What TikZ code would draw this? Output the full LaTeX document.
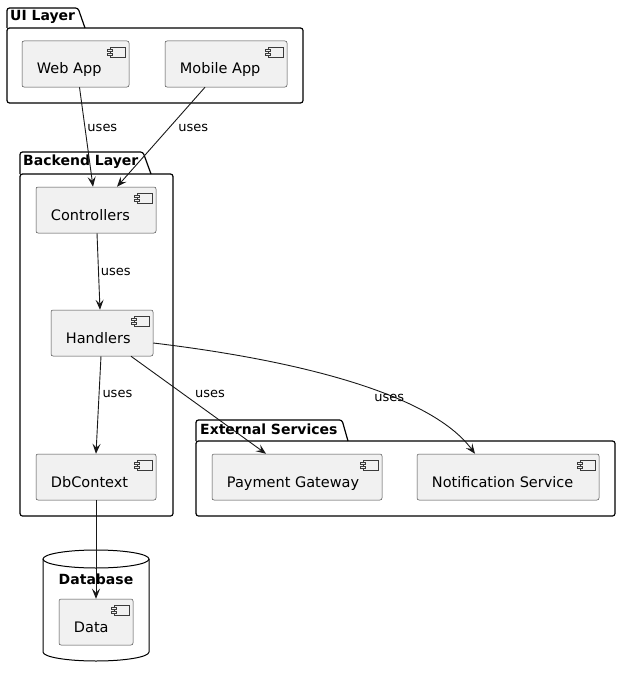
\documentclass[tikz,border=0pt]{standalone}
\usepackage{fontspec}
\setmainfont{DejaVu Sans}
\usetikzlibrary{arrows.meta}
\definecolor{compfill}{HTML}{F1F1F1}
\definecolor{ink}{HTML}{181818}
\tikzset{
  compbox/.style={draw=ink!80, line width=0.5pt, fill=compfill, rounded corners=2pt, inner sep=0pt},
  comptext/.style={font=\fontsize{14.5}{16}\selectfont, inner sep=0pt, text=black},
  pkg/.style={draw=black, line width=1.2pt, rounded corners=2.5pt},
  pkgtitle/.style={font=\bfseries\fontsize{14}{16}\selectfont, anchor=west, inner sep=0pt},
  uses/.style={draw=ink, line width=0.9pt, -{Stealth[length=10pt,width=8pt,inset=4pt]}},
  lbl/.style={font=\fontsize{13}{15}\selectfont, inner sep=0pt, anchor=west},
  icon/.style={draw=ink!85, line width=0.4pt, fill=compfill}
}
% component: name, centre x, centre y, width, height, text
\newcommand\compo[6]{%
  \node[compbox, minimum width=#4, minimum height=#5] (#1) at (#2,#3) {};
  \node[comptext, anchor=base west] (#1-t) at ([xshift=15pt, yshift=-10pt]#1.west) {#6};
  \draw[icon] ([xshift=-19pt, yshift=-6pt]#1.north east) rectangle ([xshift=-4pt, yshift=-16pt]#1.north east);
  \draw[icon] ([xshift=-22pt, yshift=-8pt]#1.north east) rectangle ([xshift=-17pt, yshift=-10pt]#1.north east);
  \draw[icon] ([xshift=-22pt, yshift=-12pt]#1.north east) rectangle ([xshift=-17pt, yshift=-14pt]#1.north east);
}
% package frame: left, tab top, body top, right, bottom, tab top end, tab slant end
\newcommand\package[7]{%
  \draw[pkg] (#1,#3) -- (#1,#2) -- (#6,#2) [sharp corners] -- (#7,#3);
  \draw[pkg] (#1,#3) rectangle (#4,#5);
}
\begin{document}
\begin{tikzpicture}[x=1pt, y=-1pt]
\useasboundingbox (0,0) rectangle (621,677);

% UI layer
\package{7}{8}{28}{303}{103}{78}{85}
\node[pkgtitle] (uititle) at (10,17) {UI Layer};
\compo{web}{75.5}{64}{107}{46}{Web App}
\compo{mobile}{226}{64}{122}{46}{Mobile App}

% Backend layer
\package{20}{152}{174}{173}{516}{143}{151}
\node[pkgtitle] (betitle) at (23,162) {Backend Layer};
\compo{ctrl}{96}{210}{120}{46}{Controllers}
\compo{hand}{102}{333}{102}{46}{Handlers}
\compo{db}{96}{477}{120}{46}{DbContext}

% External services
\package{196}{420}{441}{615}{516}{342}{348}
\node[pkgtitle] (extitle) at (200,429) {External Services};
\compo{pay}{297}{477}{170}{46}{Payment Gateway}
\compo{notif}{508}{477}{182}{46}{Notification Service}

% Database cylinder
\draw[black, line width=1pt, fill=white] (43,559) -- (43,652) arc[start angle=180, end angle=0, x radius=53, y radius=9] -- (149,559);
\draw[black, line width=1pt] (96,559) ellipse[x radius=53, y radius=9];
\node[pkgtitle, anchor=center] (dbtitle) at (96,579) {Database};
\compo{data}{96}{622}{74}{46}{Data}

% dependencies
\draw[uses] ([xshift=4pt]web.south) -- ([xshift=-3pt]ctrl.north)
  node[lbl, pos=0.41, xshift=2pt] (l1) {uses};
\draw[uses] ([xshift=-21pt]mobile.south) -- ([xshift=21pt]ctrl.north)
  node[lbl, pos=0.41, xshift=9pt] (l2) {uses};
\draw[uses] ([xshift=1pt]ctrl.south) -- ([xshift=-2pt]hand.north)
  node[lbl, pos=0.5, xshift=2pt] (l3) {uses};
\draw[uses] ([xshift=-1pt]hand.south) -- (db.north)
  node[lbl, pos=0.39, xshift=3pt] (l4) {uses};
\draw[uses] ([xshift=29pt]hand.south) -- ([xshift=-31pt]pay.north)
  node[lbl, pos=0.39, xshift=11pt] (l5) {uses};
\draw[uses] ([yshift=-10pt]hand.east) .. controls (295,360) and (430,393) .. ([xshift=-33pt]notif.north)
  node[lbl, pos=0.58, yshift=-7pt, xshift=-3pt] (l6) {uses};
\draw[uses] (db.south) -- (data.north);
\end{tikzpicture}
\end{document}
